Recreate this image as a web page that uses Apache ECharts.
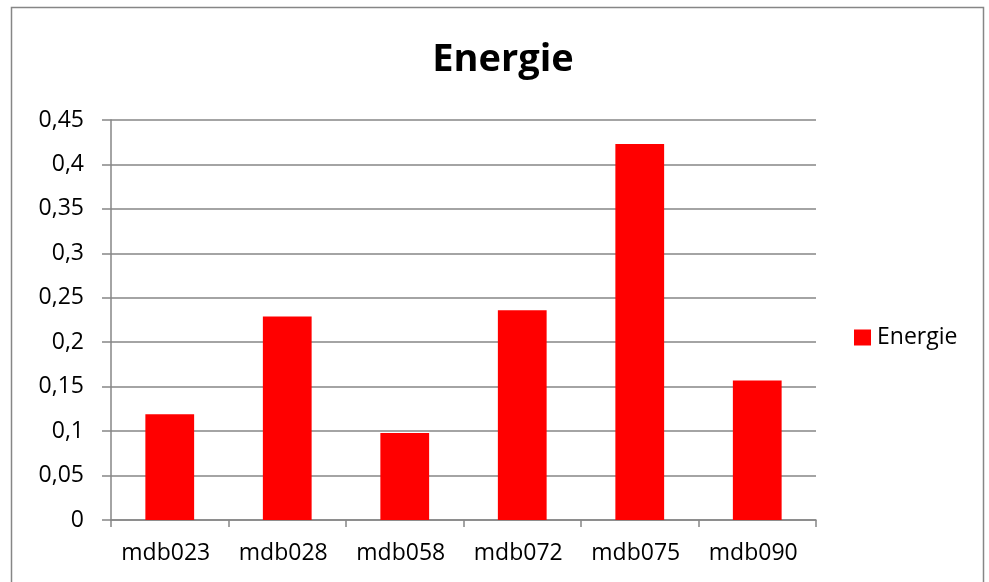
<!DOCTYPE html>
<html><head><meta charset="utf-8">
<script src="https://cdn.jsdelivr.net/npm/echarts@6/dist/echarts.min.js"></script>
<style>html,body{margin:0;padding:0;background:#fff}#c{width:989px;height:582px}</style>
</head><body><div id="c"></div>
<script>
var categories = ['mdb023','mdb028','mdb058','mdb072','mdb075','mdb090'];
var energieValues = [0.119, 0.229, 0.098, 0.236, 0.423, 0.157];
var yTicks = [0,0.05,0.1,0.15,0.2,0.25,0.3,0.35,0.4,0.45];
var seriesName = 'Energie';
var titleText = 'Energie';

var FONT = "'Open Sans', 'Noto Sans', sans-serif";
var chart = echarts.init(document.getElementById('c'), null, {renderer:'canvas'});
chart.setOption({
  animation:false,
  backgroundColor:'#fff',
  graphic:[{type:'rect', shape:{x:11.5,y:7.5,width:972,height:600}, style:{fill:'none', stroke:'#868686', lineWidth:1.5}, silent:true}],
  title:{text:titleText, left:498, top:36, textAlign:'center',
    textStyle:{fontFamily:FONT, fontWeight:'bold', fontSize:38, color:'#000'}},
  legend:{show:true, left:854, top:326, padding:0, itemWidth:17, itemHeight:16, itemGap:5,
    icon:'rect', textStyle:{fontFamily:FONT, fontSize:23, color:'#000', padding:[0,0,0,1]},
    data:[seriesName]},
  grid:{left:111, right:173, top:120, bottom:62, containLabel:false},
  xAxis:{type:'category', data:categories,
    axisLine:{lineStyle:{color:'#868686', width:1.5}},
    axisTick:{show:true, length:7, alignWithLabel:false, lineStyle:{color:'#868686', width:1.5}},
    axisLabel:{fontFamily:FONT, fontSize:23, color:'#000', margin:22, padding:[0,8,0,0]}},
  yAxis:{type:'value', min:0, max:0.45, interval:0.05,
    axisLine:{show:true, lineStyle:{color:'#868686', width:1.5}},
    axisTick:{show:true, length:9, lineStyle:{color:'#868686', width:1.5}},
    splitLine:{show:true, lineStyle:{color:'#868686', width:1.5}},
    axisLabel:{fontFamily:FONT, fontSize:23, color:'#000', margin:27,
      formatter:function(v){ return String(Math.round(v*100)/100).replace('.', ','); }}},
  series:[{name:seriesName, type:'bar', data:energieValues, barWidth:'41.5%',
    itemStyle:{color:'#ff0000'}}]
});
</script></body></html>
